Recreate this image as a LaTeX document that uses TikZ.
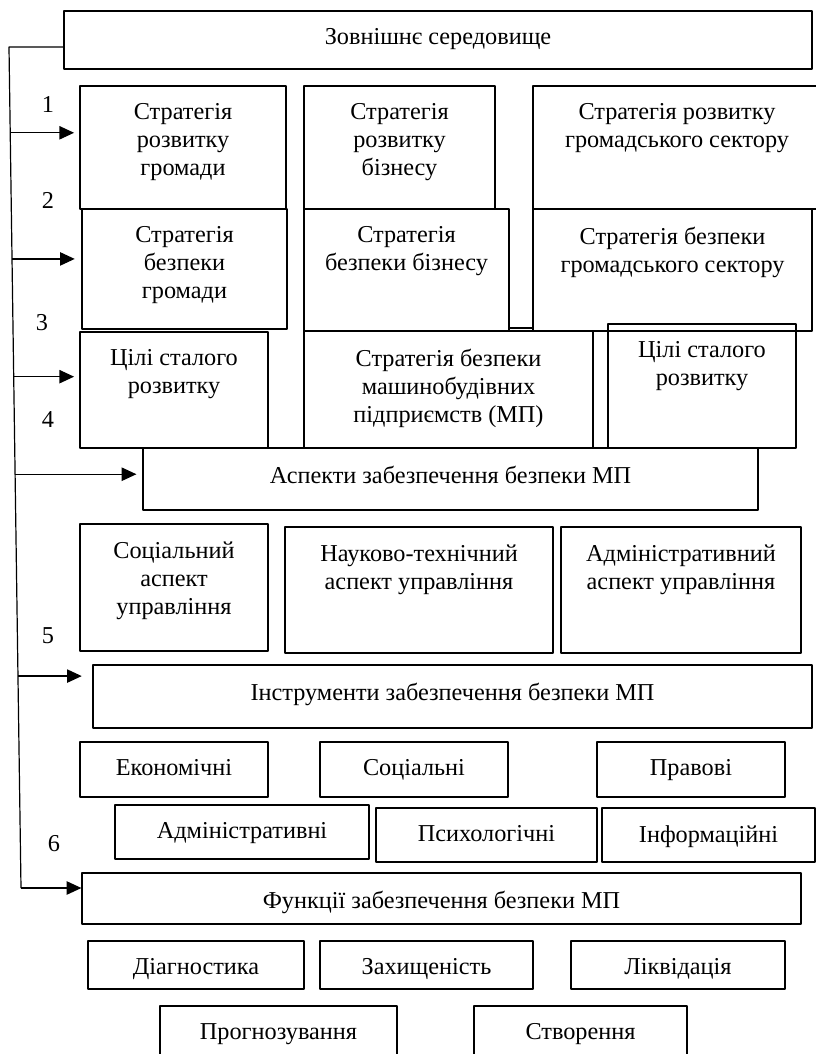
\documentclass[tikz,border=0pt]{standalone}
\usepackage{fontspec}
\setmainfont{Liberation Serif}
\usetikzlibrary{positioning,fit,calc,arrows.meta}
\begin{document}
\begin{tikzpicture}[x=0.75pt,y=-0.75pt,>={Triangle[length=11pt,width=10pt]},line join=round]
	\tikzset{blok/.style={draw,line width=0.9pt,inner sep=0pt},
		txt/.style={font=\fontsize{18.2}{21}\selectfont,align=center,inner sep=0pt},
		strilka/.style={->,line width=0.9pt}}
	\useasboundingbox (0,0) rectangle (816,1054);
	%%Блок: ім'я, кути, текст
	\def\blok#1#2#3#4#5#6{\node[blok,fit={(#2,#3) (#4,#5)}] (#1) {};
		\node[txt,below=13.5pt of #1.north] (#1t) {#6};}
	%%Зовнішнє середовище
	\blok{zov}{64}{11}{812}{69}{Зовнішнє середовище}
	%%Стратегії
	\blok{a1}{80}{86}{286}{209}{Стратегія\\розвитку\\громади}
	\blok{a2}{304}{86}{495}{209}{Стратегія\\розвитку\\бізнесу}
	\blok{a3}{533}{86}{821}{209}{Стратегія розвитку\\громадського сектору}
	\blok{b1}{82}{209}{287}{329}{Стратегія\\безпеки\\громади}
	\blok{b2}{304}{209}{509}{331}{Стратегія\\безпеки бізнесу}
	\blok{b3}{533}{209}{812}{331}{Стратегія безпеки\\громадського сектору}
	\blok{c1}{80}{332}{268}{448}{Цілі сталого\\розвитку}
	\blok{c2}{304}{331}{593}{448}{Стратегія безпеки\\машинобудівних\\підприємств (МП)}
	\blok{c3}{608}{324}{796}{448}{Цілі сталого\\розвитку}
	\draw[line width=0.9pt] (c2.north east) rectangle (c3.south west);
	\draw[line width=0.9pt] (b2.east |- 0,328) -- (b3.west |- 0,328);
	%%Аспекти
	\blok{asp}{143}{448}{758}{510}{Аспекти забезпечення безпеки МП}
	\blok{d1}{80}{524}{268}{651}{Соціальний\\аспект\\управління}
	\blok{d2}{285}{527}{553}{653}{Науково-технічний\\аспект управління}
	\blok{d3}{561}{527}{801}{653}{Адміністративний\\аспект управління}
	%%Інструменти
	\blok{ins}{93}{665}{812}{728}{Інструменти забезпечення безпеки МП}
	\blok{e1}{80}{742}{268}{797}{Економічні}
	\blok{e2}{320}{742}{508}{797}{Соціальні}
	\blok{e3}{597}{742}{785}{797}{Правові}
	\blok{f1}{115}{805}{369}{859}{Адміністративні}
	\blok{f2}{376}{808}{597}{862}{Психологічні}
	\blok{f3}{602}{808}{815}{862}{Інформаційні}
	%%Функції
	\blok{fun}{82}{873}{801}{924}{Функції забезпечення безпеки МП}
	\blok{g1}{88}{941}{304}{989}{Діагностика}
	\blok{g2}{320}{941}{533}{989}{Захищеність}
	\blok{g3}{571}{941}{785}{989}{Ліквідація}
	\blok{h1}{160}{1006}{397}{1070}{Прогнозування}
	\blok{h2}{474}{1006}{687}{1070}{Створення}
	%%Лінія зв'язку та стрілки
	\coordinate (k0) at (9,47);
	\coordinate (k6) at (21,888);
	\draw[line width=0.9pt] (zov.west |- k0) -- (k0) -- (k6);
	\draw[strilka] (k6) -- (k6 -| fun.west);
	\foreach \t/\cel/\sh in {0.102/a1/4pt,0.252/b1/5pt,0.392/c1/4pt,0.508/asp/4.5pt,0.748/ins/8pt}
		\draw[strilka,shorten >=\sh] ($(k0)!\t!(k6)$) coordinate (s) -- (s -| \cel.west);
	%%Номери
	\foreach \n/\x/\y in {1/48/104,2/48/200,3/42/323,4/48/420,5/48/636,6/54/844}
		\node[txt] (n\n) at (\x,\y) {\n};
\end{tikzpicture}
\end{document}
